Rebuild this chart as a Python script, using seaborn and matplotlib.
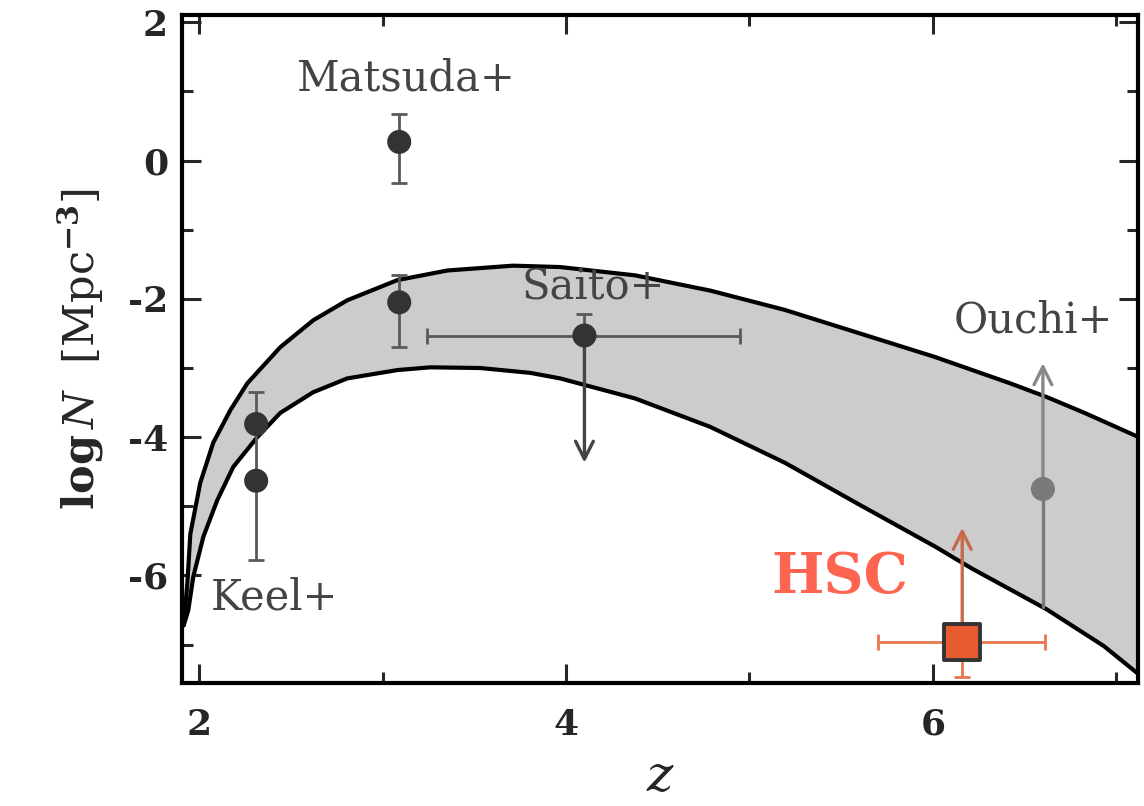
import numpy as np
import pandas as pd
import matplotlib
matplotlib.use("Agg")
import matplotlib.pyplot as plt
import seaborn as sns

# model band
upper_z = [1.915, 1.935, 1.951, 2.005, 2.076, 2.169, 2.262, 2.441, 2.621, 2.807, 3.079,
           3.352, 3.711, 3.967, 4.376, 4.785, 5.193, 5.602, 6.011, 6.420, 6.621, 6.828, 7.123]
upper_n = [-6.72, -6.10, -5.40, -4.66, -4.08, -3.61, -3.22, -2.70, -2.31, -2.02, -1.73,
           -1.59, -1.52, -1.54, -1.66, -1.88, -2.16, -2.50, -2.84, -3.22, -3.42, -3.65, -4.00]
lower_z = [1.915, 1.940, 1.967, 2.022, 2.098, 2.185, 2.316, 2.441, 2.621, 2.807, 3.079,
           3.259, 3.531, 3.804, 3.967, 4.376, 4.785, 5.193, 5.602, 6.011, 6.213, 6.621,
           6.932, 7.123]
lower_n = [-6.72, -6.50, -6.02, -5.44, -4.91, -4.43, -4.00, -3.65, -3.35, -3.15, -3.03,
           -2.99, -3.00, -3.07, -3.15, -3.44, -3.85, -4.37, -4.98, -5.58, -5.90, -6.49,
           -7.02, -7.43]

# observations
keel_z = [2.31, 2.31]
keel_n = [-3.81, -4.63]
keel_hi = [-3.35, -4.63]
keel_lo = [-4.63, -5.77]

matsuda_z = [3.09, 3.09]
matsuda_n = [0.27, -2.05]
matsuda_hi = [0.68, -1.65]
matsuda_lo = [-0.32, -2.70]

saito_z, saito_n = 4.10, -2.53
saito_zlo, saito_zhi = 3.24, 4.95
saito_hi, saito_lim = -2.22, -4.37

ouchi_z, ouchi_n = 6.60, -4.75
ouchi_lo, ouchi_lim = -6.45, -2.93

hsc_z, hsc_n = 6.16, -6.96
hsc_zlo, hsc_zhi = 5.70, 6.61
hsc_lo, hsc_lim = -7.47, -5.31

labels = ["Matsuda+", "Saito+", "Keel+", "Ouchi+"]
label_z = [3.13, 4.15, 2.41, 6.55]
label_n = [1.18, -1.83, -6.32, -2.31]

sns.set_style("ticks")
plt.rcParams["font.family"] = ["DejaVu Serif"]
plt.rcParams["mathtext.fontset"] = "dejavuserif"
plt.rcParams["axes.unicode_minus"] = False

fig = plt.figure(figsize=(11.44, 8.06), dpi=100)
ax = fig.add_axes([0.159, 0.153, 0.836, 0.828])

# band
poly_z = upper_z + lower_z[::-1]
poly_n = upper_n + lower_n[::-1]
ax.fill(poly_z, poly_n, color="#cccccc", lw=0, zorder=1)
band = pd.concat([
    pd.DataFrame({"z": upper_z, "n": upper_n, "edge": "upper"}),
    pd.DataFrame({"z": lower_z, "n": lower_n, "edge": "lower"}),
])
sns.lineplot(data=band, x="z", y="n", units="edge", estimator=None, sort=False,
             color="black", lw=3.0, ax=ax, zorder=2)

dark = "#333333"
bar = "#5a5a5a"
arrow_kw = dict(arrowstyle="->", lw=2.4, mutation_scale=32, shrinkA=0, shrinkB=0)

# Keel+ and Matsuda+
for zs, ns, his, los in [(keel_z, keel_n, keel_hi, keel_lo),
                         (matsuda_z, matsuda_n, matsuda_hi, matsuda_lo)]:
    yerr = [np.array(ns) - np.array(los), np.array(his) - np.array(ns)]
    ax.errorbar(zs, ns, yerr=yerr, fmt="none", ecolor=bar, elinewidth=2,
                capsize=6, capthick=2, zorder=3)
pts = pd.DataFrame({"z": keel_z + matsuda_z + [saito_z],
                    "n": keel_n + matsuda_n + [saito_n]})
sns.scatterplot(data=pts, x="z", y="n", s=300, color=dark, edgecolor="none",
                ax=ax, zorder=5)

# Saito+
ax.errorbar([saito_z], [saito_n], xerr=[[saito_z - saito_zlo], [saito_zhi - saito_z]],
            yerr=[[0], [saito_hi - saito_n]], fmt="none", ecolor=bar, elinewidth=2,
            capsize=6, capthick=2, zorder=3)
ax.annotate("", xy=(saito_z, saito_lim), xytext=(saito_z, saito_n),
            arrowprops=dict(color="#444444", **arrow_kw), zorder=4)

# Ouchi+
ax.plot([ouchi_z, ouchi_z], [ouchi_lo, ouchi_n], color="#7a7a7a", lw=2.4, zorder=3)
ax.annotate("", xy=(ouchi_z, ouchi_lim), xytext=(ouchi_z, ouchi_n),
            arrowprops=dict(color="#888888", **arrow_kw), zorder=4)
sns.scatterplot(x=[ouchi_z], y=[ouchi_n], s=300, color="#7a7a7a", edgecolor="none",
                ax=ax, zorder=5)

# HSC
hsc_col = "#e8774f"
ax.errorbar([hsc_z], [hsc_n], xerr=[[hsc_z - hsc_zlo], [hsc_zhi - hsc_z]],
            yerr=[[hsc_n - hsc_lo], [0]], fmt="none", ecolor=hsc_col, elinewidth=2,
            capsize=6, capthick=2, zorder=3)
ax.annotate("", xy=(hsc_z, hsc_lim), xytext=(hsc_z, hsc_n),
            arrowprops=dict(color="#c8694a", **arrow_kw), zorder=4)
sns.scatterplot(x=[hsc_z], y=[hsc_n], s=680, marker="s", color="#e85a30",
                edgecolor="#333333", linewidth=2.8, ax=ax, zorder=6)
ax.text(5.49, -6.03, "HSC", color="#ff6450", fontsize=40, fontweight="bold",
        ha="center", va="center", zorder=7)

for t, zz, nn in zip(labels, label_z, label_n):
    ax.text(zz, nn, t, color="#444444", fontsize=30, ha="center", va="center", zorder=7)

ax.set_xlim(1.905, 7.12)
ax.set_ylim(-7.55, 2.1)
ax.set_xticks([2, 4, 6])
ax.set_xticks([3, 5, 7], minor=True)
ax.set_yticks([2, 0, -2, -4, -6])
ax.set_yticks([1, -1, -3, -5, -7], minor=True)
ax.tick_params(which="both", direction="in", top=True, right=True, width=2.2,
               labelsize=26)
ax.tick_params(axis="y", pad=10)
ax.tick_params(axis="x", pad=18)
ax.tick_params(which="major", length=14)
ax.tick_params(which="minor", length=8)
for lab in ax.get_xticklabels() + ax.get_yticklabels():
    lab.set_fontweight("bold")
for sp in ax.spines.values():
    sp.set_linewidth(3)
    sp.set_color("black")

ax.set_xlabel("$z$", fontsize=36)
ax.xaxis.set_label_coords(0.5, -0.105)
ax.set_ylabel(r"$\mathbf{log}\,N$  [Mpc$^{\mathbf{-3}}$]", fontsize=31, labelpad=16)

fig.savefig("out.png", dpi=100)
